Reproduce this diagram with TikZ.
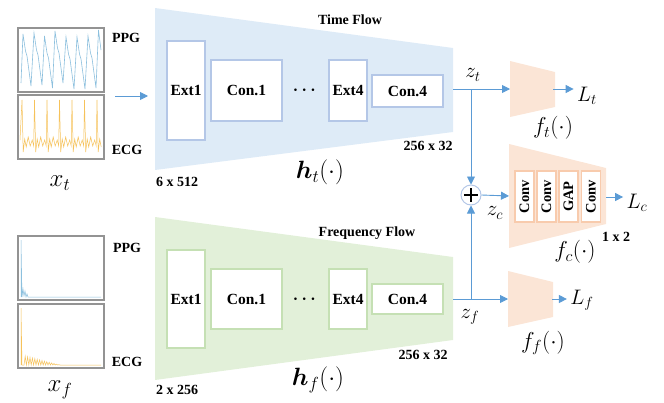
\documentclass[tikz,border=0pt]{standalone}
\usepackage{fix-cm}
\usepackage{amsmath,amssymb}
\usepackage{fontspec}
\setmainfont{Liberation Serif}
\usepackage{xcolor}
\usepackage{tikz}
\usetikzlibrary{arrows.meta}

\definecolor{tflow}{HTML}{DEEBF7}
\definecolor{tedge}{HTML}{B4C7E7}
\definecolor{fflow}{HTML}{E2F0D9}
\definecolor{fedge}{HTML}{C5E0B4}
\definecolor{hflow}{HTML}{FBE5D6}
\definecolor{hedge}{HTML}{F8CBAD}
\definecolor{arrblue}{HTML}{5B9BD5}
\definecolor{ppgblue}{HTML}{8CC0DE}
\definecolor{ecgyellow}{HTML}{F6C25A}

\tikzset{
  blk/.style={draw=#1, line width=1.8pt, fill=white, inner sep=0pt,
    font=\bfseries\fontsize{15.5}{15.5}\selectfont},
  hblk/.style={blk=hedge, rotate=90, minimum width=51pt, minimum height=19pt,
    font=\bfseries\fontsize{14.5}{14.5}\selectfont},
  tag/.style={font=\bfseries\fontsize{14}{14}\selectfont},
  arr/.style={draw=arrblue, line width=0.9pt, -{Triangle[length=8pt,width=8pt]}},
  sigbox/.style={draw=gray!85, line width=1.2pt, fill=white},
  big/.style={font=\fontsize{25}{25}\selectfont},
  mid/.style={font=\fontsize{21}{21}\selectfont},
  fhead/.style={font=\fontsize{23}{23}\selectfont},
}

\begin{document}
\begin{tikzpicture}[x=1pt, y=-1pt]
  \useasboundingbox (0,0) rectangle (664,402);

  % Time-domain input signals
  \draw[sigbox] (18,28) rectangle (104,92);
  \draw[sigbox] (18,95) rectangle (104,159);
  \draw[ppgblue, line width=0.6pt] (21,83)
    \foreach \p/\h in {23/34,34/33,44.5/36,55/31,66/37,77/37,88/36} {
      -- (\p,\h) -- ++(2.5,17) -- ++(1.5,5) -- ++(4,30) }
    -- (98.5,30) -- (101,50);
  \draw[ecgyellow, line width=0.5pt] (20,140)
    \foreach \s in {22,34.5,47,59.5,72,84.5} {
      -- (\s,100) -- ++(1.2,52) -- ++(1.5,-13) -- ++(1.5,8) -- ++(2,-10)
      -- ++(2,9) -- ++(2,-6) -- ++(1.5,6) }
    -- (97,100) -- ++(1.2,52) -- ++(1.5,-13) -- ++(1.5,8);
  \node[tag] (ppgT) at (126,38) {PPG};
  \node[tag] (ecgT) at (127,150) {ECG};
  \node[big] (xt) at (60,183) {$x_t$};

  % Frequency-domain input signals
  \draw[sigbox] (18,236) rectangle (104,300);
  \draw[sigbox] (18,304) rectangle (104,368);
  \draw[ppgblue, line width=0.5pt] (21,297) -- (21,240) -- (22,297) -- (23,289)
    -- (24,296) -- (25,291) -- (26,297) -- (27,294) -- (28,297) -- (101,297);
  \draw[ecgyellow, line width=0.5pt] (21,365) -- (21,308) -- (22,365)
    \foreach \i in {0,...,30} { -- ({24+1.2*\i},{365-(9-0.3*\i)*mod(\i,2)}) }
    -- (101,365);
  \node[tag] (ppgF) at (127,248) {PPG};
  \node[tag] (ecgF) at (127,362) {ECG};
  \node[big] (xf) at (60,390) {$x_f$};

  % Time flow
  \fill[tflow] (155,8) -- (453,48) -- (453,132) -- (155,170) -- cycle;
  \node[tag] (tflowlbl) at (350,20) {Time Flow};
  \node[blk=tedge, minimum width=38pt, minimum height=99pt] (extT1) at (186,90.5) {Ext1};
  \node[blk=tedge, minimum width=71pt, minimum height=61pt] (conT1) at (246.5,90.5) {Con.1};
  \node[font=\fontsize{17}{17}\selectfont] (dotsT) at (306,90) {$\boldsymbol{\cdots}$};
  \node[blk=tedge, minimum width=38pt, minimum height=61pt] (extT4) at (348,90.5) {Ext4};
  \node[blk=tedge, minimum width=71pt, minimum height=32pt] (conT4) at (407.5,91) {Con.4};
  \node[tag] (tdimin) at (177,182) {6 x 512};
  \node[tag] (tdimout) at (428,146) {256 x 32};
  \node[big] (ht) at (320,172) {$\boldsymbol{h}_t(\cdot)$};

  % Frequency flow
  \fill[fflow] (155,217) -- (453,257) -- (453,340) -- (155,380) -- cycle;
  \node[tag] (fflowlbl) at (367,233) {Frequency Flow};
  \node[blk=fedge, minimum width=38pt, minimum height=98pt] (extF1) at (186,299) {Ext1};
  \node[blk=fedge, minimum width=71pt, minimum height=60pt] (conF1) at (246.5,299) {Con.1};
  \node[font=\fontsize{17}{17}\selectfont] (dotsF) at (306,299) {$\boldsymbol{\cdots}$};
  \node[blk=fedge, minimum width=38pt, minimum height=60pt] (extF4) at (348,299) {Ext4};
  \node[blk=fedge, minimum width=71pt, minimum height=30pt] (conF4) at (407.5,299) {Con.4};
  \node[tag] (fdimin) at (177,390) {2 x 256};
  \node[tag] (fdimout) at (423,355) {256 x 32};
  \node[big] (hf) at (318,380) {$\boldsymbol{h}_f(\cdot)$};

  % Projection heads
  \fill[hflow] (510,61) -- (555,72) -- (555,107) -- (510,117) -- cycle;
  \fill[hflow] (509,144) -- (606,168) -- (606,224) -- (509,248) -- cycle;
  \fill[hflow] (508,271) -- (553,282) -- (553,317) -- (508,327) -- cycle;
  \node[hblk] (convA) at (524.5,196.5) {Conv};
  \node[hblk] (convB) at (546.5,196.5) {Conv};
  \node[hblk] (gap) at (568.5,196.5) {GAP};
  \node[hblk] (convC) at (591,196.5) {Conv};
  \node[fhead] (ft) at (553,128) {$f_t(\cdot)$};
  \node[fhead] (fc) at (575,252) {$f_c(\cdot)$};
  \node[tag] (outdim) at (616,237) {1 x 2};
  \node[fhead] (ff) at (543,343) {$f_f(\cdot)$};

  % Embeddings and losses
  \node[mid] (zt) at (473,75) {$z_t$};
  \node[mid] (zc) at (495,213) {$z_c$};
  \node[mid] (zf) at (470,317) {$z_f$};
  \node[mid] (Lt) at (587,96) {$L_t$};
  \node[mid] (Lc) at (637,203) {$L_c$};
  \node[mid] (Lf) at (582,300) {$L_f$};
  \node[circle, draw=tedge, line width=1pt, minimum size=20pt, inner sep=0pt,
    fill=white] (sum) at (471,195) {};
  \draw[line width=1.5pt] (sum.center) ++(-7,0) -- ++(14,0);
  \draw[line width=1.5pt] (sum.center) ++(0,-7) -- ++(0,14);

  % Connectors
  \coordinate (inT) at (115,96);
  \coordinate (inTend) at (148,96);
  \coordinate (tOut) at (453,89);
  \coordinate (jt) at (471,89);
  \coordinate (fOut) at (453,299);
  \coordinate (jf) at (471,299);
  \coordinate (ftIn) at (510,89);
  \coordinate (ftOut) at (553,89);
  \coordinate (fcIn) at (509,196);
  \coordinate (fcOut) at (606,197);
  \coordinate (ffIn) at (508,299);
  \coordinate (ffOut) at (552,299);
  \draw[arr] (inT) -- (inTend);
  \draw[arr] (tOut) -- (ftIn);
  \draw[arr] (jt) -- (sum.north);
  \draw[arr] (fOut) -- (ffIn);
  \draw[arr] (jf) -- (sum.south);
  \draw[arr] (sum.east) -- (fcIn);
  \draw[arr] (ftOut) -- (ftOut -| Lt.west);
  \draw[arr] (fcOut) -- (fcOut -| Lc.west);
  \draw[arr] (ffOut) -- (ffOut -| Lf.west);
\end{tikzpicture}
\end{document}
